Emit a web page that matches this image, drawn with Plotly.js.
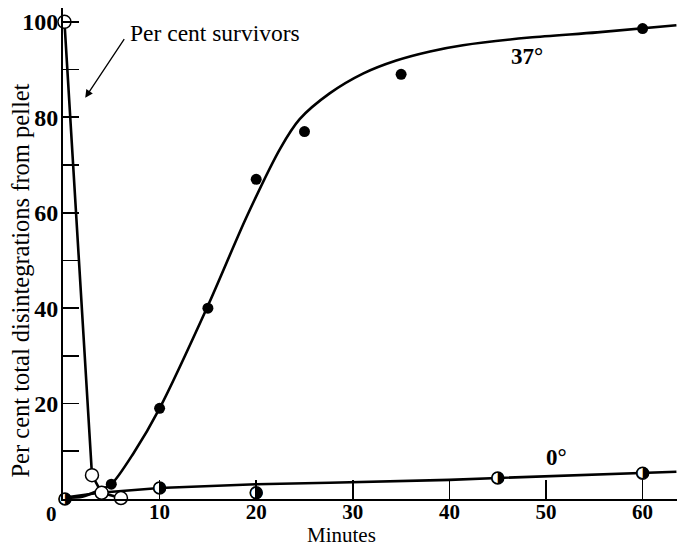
<!DOCTYPE html>
<html><head><meta charset="utf-8">
<script src="https://cdn.plot.ly/plotly-3.0.1.min.js"></script>
<style>html,body{margin:0;padding:0;background:#fff}#chart{width:677px;height:547px}</style>
</head><body><div id="chart"></div>
<script>
// 37 degrees (filled circles)
const t37 = [5, 10, 15, 20, 25, 35, 60];
const y37 = [3.1, 19, 40, 67, 77, 89, 98.6];
// 37 degrees fitted curve
const c37x = [0, 2, 3.8, 5, 7.3, 10, 15, 19, 22.5, 24.5, 27.6, 31.1, 34.5, 38, 41.4, 48.3, 55.3, 63.5];
const c37y = [0.3, 0.5, 1.9, 3.1, 9.6, 19, 40.5, 59.1, 73.5, 79.6, 85.0, 89.2, 91.9, 93.8, 95.1, 96.7, 97.8, 99.3];
// 0 degrees (half-filled circles)
const t0 = [0.2, 10, 20, 45, 60];
const y0 = [0, 2.3, 1.3, 4.4, 5.4];
// 0 degrees line
const c0x = [0.2, 3.8, 10, 20, 27.6, 40, 45, 60, 63.5];
const c0y = [0.3, 1.3, 2.3, 3.1, 3.4, 4.0, 4.4, 5.4, 5.7];
// Per cent survivors (open circles)
const tSurv = [0.15, 3, 4, 6];
const ySurv = [100, 5, 1.3, 0.2];
// ticks
const xTicks = [0, 10, 20, 30, 40, 50, 60];
const xTickText = ['', '10', '20', '30', '40', '50', '60'];
const yTicks = [10, 20, 30, 40, 50, 60, 70, 80, 90, 100];
const yTickText = ['', '20', '', '40', '', '60', '', '80', '', '100'];

const serif = 'Liberation Serif, Times New Roman, serif';
const traces = [
  {x: c37x, y: c37y, mode: 'lines', line: {color: '#000', width: 2.6, shape: 'spline', smoothing: 0.8}, hoverinfo: 'skip'},
  {x: c0x, y: c0y, mode: 'lines', line: {color: '#000', width: 2.6}, hoverinfo: 'skip'},
  {x: tSurv, y: ySurv, mode: 'lines+markers', cliponaxis: false, line: {color: '#000', width: 2.6},
   marker: {symbol: 'circle', size: 13, color: '#fff', line: {color: '#000', width: 1.5}}},
  {x: t37, y: y37, mode: 'markers', cliponaxis: false, marker: {symbol: 'circle', size: 11, color: '#000'}},
  {x: t0, y: y0, mode: 'markers', cliponaxis: false, marker: {symbol: 'circle', size: 12, color: '#fff', line: {color: '#000', width: 1.5}}},
  {x: t0, y: y0, mode: 'text', cliponaxis: false, text: t0.map(() => '\u25D1'), textposition: 'middle center',
   textfont: {family: 'DejaVu Sans', size: 16, color: '#000'}}
];
const layout = {
  width: 677, height: 547,
  margin: {l: 63, r: 0, t: 8, b: 48},
  paper_bgcolor: '#fff', plot_bgcolor: '#fff',
  showlegend: false,
  font: {family: serif, color: '#000'},
  xaxis: {range: [0, 63.56], tickvals: xTicks, ticktext: xTickText, ticks: 'inside', ticklen: 19, tickwidth: 1.6, tickcolor: '#000',
          showline: true, linecolor: '#000', linewidth: 2, showgrid: false, zeroline: false, ticklabelstandoff: -7,
          tickfont: {family: serif, size: 21, color: '#000', weight: 'bold'}},
  yaxis: {range: [0, 102.9], tickvals: yTicks, ticktext: yTickText, ticks: 'inside', ticklen: 16, tickwidth: 1.6, tickcolor: '#000',
          showline: true, linecolor: '#000', linewidth: 2, showgrid: false, zeroline: false, ticklabelstandoff: -2,
          tickfont: {family: serif, size: 24, color: '#000', weight: 'bold'}},
  annotations: [
    {xref: 'paper', yref: 'paper', x: -0.018, y: 0, xanchor: 'center', yanchor: 'middle', yshift: -15, text: '0', showarrow: false,
     font: {family: serif, size: 21, color: '#000', weight: 'bold'}},
    {xref: 'paper', yref: 'paper', x: 0.454, y: 0, xanchor: 'center', yanchor: 'middle', yshift: -36, borderpad: 0, text: 'Minutes', showarrow: false,
     font: {family: serif, size: 21, color: '#000'}},
    {xref: 'paper', yref: 'paper', x: -0.070, y: 0.445, xanchor: 'center', yanchor: 'middle', textangle: -90,
     text: 'Per cent total disintegrations from pellet', showarrow: false,
     font: {family: serif, size: 24.5, color: '#000'}},
    {x: 15.7, y: 97.6, text: 'Per cent survivors', showarrow: false, font: {family: serif, size: 23.5, color: '#000'}},
    {x: 2.3, y: 84.1, ax: 40, ay: -60, text: '', showarrow: true, arrowhead: 2, arrowsize: 1.2, arrowwidth: 1.3, arrowcolor: '#000'},
    {x: 48.0, y: 92.7, text: '37°', showarrow: false, font: {family: serif, size: 23, color: '#000', weight: 'bold'}},
    {x: 51.1, y: 8.6, text: '0°', showarrow: false, font: {family: serif, size: 23, color: '#000', weight: 'bold'}}
  ]
};
Plotly.newPlot('chart', traces, layout, {displayModeBar: false, staticPlot: true});
</script></body></html>
